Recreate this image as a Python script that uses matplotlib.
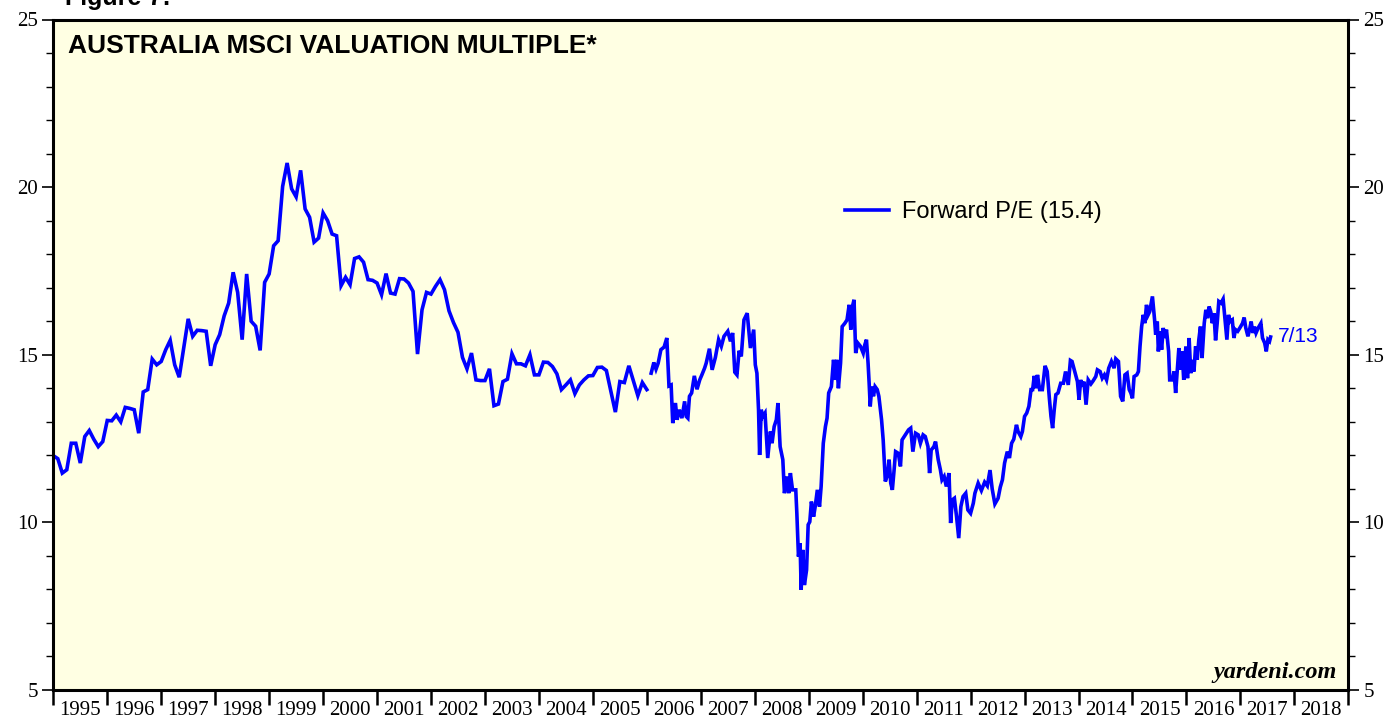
#!/usr/bin/env python3
"""Australia MSCI forward P/E, 1995 - mid 2017 (yardeni-style chart)."""

import numpy as np
import matplotlib
matplotlib.use("Agg")
import matplotlib.pyplot as plt
from matplotlib.ticker import FixedLocator, NullFormatter, FixedFormatter, MultipleLocator

# ── monthly readings, Jan 1995 .. Jan 2006 ───────────────────────────────────
monthly_start = 1995.0
monthly_pe = [
    11.99, 11.90, 11.47, 11.57, 12.36, 12.36, 11.77, 12.56, 12.74, 12.48, 12.26, 12.41,
    13.04, 13.03, 13.20, 13.00, 13.43, 13.40, 13.36, 12.66, 13.89, 13.96, 14.87, 14.70,
    14.80, 15.15, 15.43, 14.70, 14.33, 15.20, 16.07, 15.55, 15.73, 15.72, 15.70, 14.67,
    15.30, 15.60, 16.16, 16.54, 17.46, 16.86, 15.45, 17.41, 16.00, 15.85, 15.13, 17.16,
    17.41, 18.25, 18.40, 20.02, 20.72, 19.95, 19.71, 20.50, 19.35, 19.10, 18.36, 18.48,
    19.23, 19.00, 18.60, 18.55, 17.06, 17.31, 17.09, 17.87, 17.92, 17.76, 17.24, 17.22,
    17.14, 16.79, 17.42, 16.84, 16.81, 17.27, 17.26, 17.14, 16.89, 15.02, 16.34, 16.86,
    16.81, 17.04, 17.24, 16.94, 16.31, 15.96, 15.67, 14.92, 14.58, 15.05, 14.25, 14.23,
    14.23, 14.58, 13.48, 13.53, 14.20, 14.27, 15.03, 14.73, 14.73, 14.67, 15.00, 14.40,
    14.40, 14.78, 14.77, 14.65, 14.43, 13.96, 14.10, 14.25, 13.84, 14.10, 14.25, 14.37,
    14.38, 14.62, 14.63, 14.53, 13.91, 13.29, 14.20, 14.17, 14.67, 14.23, 13.78, 14.17,
    13.96,
]

# ── weekly-ish readings, 2006 .. 7/13/2017 (decimal year, P/E) ────────────────
weekly_dates = [
    2006.08, 2006.13, 2006.17, 2006.21, 2006.26, 2006.32, 2006.37, 2006.41, 2006.45, 2006.48,
    2006.53, 2006.56, 2006.60, 2006.65, 2006.70, 2006.73, 2006.76, 2006.79, 2006.83, 2006.88,
    2006.93, 2006.98, 2007.02, 2007.07, 2007.10, 2007.16, 2007.21, 2007.27, 2007.33, 2007.38,
    2007.43, 2007.50, 2007.55, 2007.59, 2007.63, 2007.67, 2007.71, 2007.75, 2007.80, 2007.86,
    2007.92, 2007.98, 2008.01, 2008.04, 2008.07, 2008.09, 2008.12, 2008.15, 2008.19, 2008.24,
    2008.29, 2008.32, 2008.36, 2008.40, 2008.43, 2008.47, 2008.52, 2008.55, 2008.60, 2008.63,
    2008.66, 2008.70, 2008.76, 2008.78, 2008.81, 2008.84, 2008.86, 2008.89, 2008.92, 2008.96,
    2008.99, 2009.02, 2009.05, 2009.09, 2009.12, 2009.16, 2009.20, 2009.23, 2009.27, 2009.31,
    2009.34, 2009.37, 2009.42, 2009.46, 2009.49, 2009.52, 2009.55, 2009.59, 2009.62, 2009.67,
    2009.71, 2009.75, 2009.78, 2009.81, 2009.84, 2009.87, 2009.91, 2009.96, 2010.01, 2010.04,
    2010.07, 2010.10, 2010.12, 2010.14, 2010.17, 2010.20, 2010.23, 2010.27, 2010.30, 2010.35,
    2010.38, 2010.42, 2010.46, 2010.49, 2010.52, 2010.55, 2010.58, 2010.61, 2010.66, 2010.70,
    2010.73, 2010.77, 2010.81, 2010.85, 2010.89, 2010.93, 2010.98, 2011.03, 2011.07, 2011.12,
    2011.16, 2011.21, 2011.24, 2011.27, 2011.32, 2011.35, 2011.40, 2011.44, 2011.47, 2011.51,
    2011.55, 2011.60, 2011.63, 2011.66, 2011.70, 2011.74, 2011.78, 2011.82, 2011.86, 2011.91,
    2011.95, 2012.00, 2012.05, 2012.08, 2012.14, 2012.20, 2012.26, 2012.31, 2012.36, 2012.40,
    2012.45, 2012.51, 2012.55, 2012.59, 2012.63, 2012.68, 2012.72, 2012.76, 2012.80, 2012.85,
    2012.88, 2012.93, 2012.96, 2013.00, 2013.04, 2013.08, 2013.12, 2013.15, 2013.18, 2013.21,
    2013.24, 2013.28, 2013.33, 2013.38, 2013.42, 2013.46, 2013.49, 2013.52, 2013.55, 2013.58,
    2013.62, 2013.67, 2013.72, 2013.76, 2013.81, 2013.85, 2013.88, 2013.93, 2013.98, 2014.01,
    2014.04, 2014.07, 2014.10, 2014.14, 2014.18, 2014.23, 2014.27, 2014.32, 2014.35, 2014.40,
    2014.44, 2014.48, 2014.52, 2014.56, 2014.61, 2014.66, 2014.69, 2014.74, 2014.78, 2014.82,
    2014.86, 2014.90, 2014.94, 2014.97, 2015.00, 2015.03, 2015.08, 2015.11, 2015.14, 2015.17,
    2015.20, 2015.23, 2015.26, 2015.29, 2015.32, 2015.37, 2015.41, 2015.43, 2015.46, 2015.48,
    2015.51, 2015.54, 2015.57, 2015.60, 2015.63, 2015.67, 2015.69, 2015.74, 2015.77, 2015.80,
    2015.83, 2015.86, 2015.89, 2015.92, 2015.95, 2015.99, 2016.02, 2016.05, 2016.08, 2016.11,
    2016.14, 2016.17, 2016.20, 2016.23, 2016.26, 2016.29, 2016.33, 2016.36, 2016.39, 2016.42,
    2016.45, 2016.48, 2016.51, 2016.54, 2016.57, 2016.60, 2016.64, 2016.68, 2016.71, 2016.75,
    2016.78, 2016.81, 2016.85, 2016.88, 2016.91, 2016.95, 2016.99, 2017.04, 2017.07, 2017.10,
    2017.14, 2017.17, 2017.20, 2017.23, 2017.26, 2017.29, 2017.33, 2017.38, 2017.41, 2017.45,
    2017.48, 2017.51, 2017.54, 2017.56,
]
weekly_pe = [
    14.45, 14.77, 14.57, 14.75, 15.15, 15.23, 15.50, 14.07, 14.10, 12.96,
    13.56, 13.06, 13.36, 13.11, 13.61, 13.16, 13.11, 13.76, 13.86, 14.37,
    13.97, 14.25, 14.40, 14.60, 14.75, 15.18, 14.55, 14.92, 15.45, 15.25,
    15.55, 15.70, 15.40, 15.65, 14.48, 14.40, 15.12, 14.95, 16.04, 16.24,
    15.20, 15.75, 14.70, 14.45, 13.36, 12.01, 13.36, 13.16, 13.26, 11.92,
    12.71, 12.36, 12.86, 13.06, 13.56, 12.26, 11.87, 10.87, 11.37, 10.87,
    11.47, 10.97, 10.97, 10.27, 8.98, 9.38, 7.99, 9.18, 8.13, 8.58,
    9.93, 10.02, 10.62, 10.17, 10.47, 10.97, 10.47, 11.07, 12.36, 12.86,
    13.11, 13.86, 14.05, 14.85, 14.25, 14.85, 14.00, 14.75, 15.84, 15.94,
    16.04, 16.49, 15.75, 16.44, 16.64, 15.05, 15.35, 15.25, 15.05, 15.30,
    15.45, 14.75, 14.15, 13.46, 14.05, 13.76, 14.05, 13.96, 13.76, 13.06,
    12.46, 11.22, 11.42, 11.87, 11.17, 10.97, 11.52, 12.11, 12.06, 11.67,
    12.46, 12.56, 12.66, 12.76, 12.81, 12.11, 12.66, 12.61, 12.36, 12.61,
    12.56, 12.26, 11.47, 12.16, 12.26, 12.41, 11.87, 11.57, 11.27, 11.37,
    11.07, 11.47, 9.98, 10.67, 10.72, 10.17, 9.53, 10.47, 10.77, 10.87,
    10.37, 10.27, 10.57, 10.87, 11.17, 10.95, 11.20, 11.09, 11.56, 11.00,
    10.55, 10.72, 11.05, 11.27, 11.77, 12.11, 11.92, 12.36, 12.48, 12.91,
    12.71, 12.56, 12.71, 13.16, 13.26, 13.46, 13.96, 13.96, 14.37, 14.00,
    14.40, 13.96, 13.96, 14.67, 14.50, 13.70, 13.16, 12.81, 13.36, 13.81,
    13.86, 14.15, 14.15, 14.50, 14.10, 14.83, 14.80, 14.50, 14.20, 13.66,
    14.25, 14.05, 14.20, 13.51, 14.25, 14.13, 14.22, 14.35, 14.55, 14.50,
    14.30, 14.40, 14.25, 14.60, 14.80, 14.60, 14.88, 14.80, 13.76, 13.61,
    14.40, 14.45, 13.96, 13.86, 13.70, 14.35, 14.40, 14.50, 15.25, 15.84,
    16.19, 15.94, 16.49, 16.19, 16.29, 16.74, 16.04, 15.60, 15.99, 15.10,
    15.70, 15.15, 15.80, 15.50, 15.75, 15.10, 14.25, 14.25, 14.50, 13.86,
    14.55, 15.20, 14.55, 15.10, 14.25, 15.25, 14.30, 15.50, 14.45, 14.85,
    14.50, 15.25, 14.85, 15.45, 15.84, 14.90, 15.94, 16.34, 16.09, 16.44,
    16.29, 15.94, 16.24, 15.43, 15.94, 16.59, 16.54, 16.66, 16.14, 15.45,
    16.19, 15.99, 16.04, 15.50, 15.75, 15.70, 15.80, 15.94, 16.11, 15.80,
    15.55, 15.75, 15.99, 15.65, 15.84, 15.65, 15.80, 15.94, 15.50, 15.35,
    15.10, 15.45, 15.40, 15.53,
]

latest_pe = 15.4
latest_label = "7/13"
years = list(range(1995, 2019))

BLUE = "#0000ff"
BG = "#ffffe3"
SERIF = ["Liberation Serif", "DejaVu Serif"]
SANS = ["Liberation Sans", "DejaVu Sans"]


def main() -> None:
    fig = plt.figure(figsize=(13.95, 7.21), dpi=100)
    ax = fig.add_axes([53.3 / 1395, 31 / 721, 1295 / 1395, 670.5 / 721])
    ax.set_facecolor(BG)

    m_dates = monthly_start + np.arange(len(monthly_pe)) / 12.0
    ax.plot(m_dates, monthly_pe, color=BLUE, linewidth=2.6,
            label=f"Forward P/E ({latest_pe})", solid_joinstyle="miter")
    ax.plot(weekly_dates, weekly_pe, color=BLUE, linewidth=2.6, solid_joinstyle="miter")

    ax.set_xlim(1995, 2019)
    ax.set_ylim(5, 25)

    # x axis: long ticks at year boundaries, labels centred in each year
    ax.xaxis.set_major_locator(FixedLocator(years + [2019]))
    ax.xaxis.set_major_formatter(NullFormatter())
    ax.xaxis.set_minor_locator(FixedLocator([y + 0.5 for y in years]))
    ax.xaxis.set_minor_formatter(FixedFormatter([str(y) for y in years]))
    ax.tick_params(axis="x", which="major", direction="out", length=11, width=1.8)
    ax.tick_params(axis="x", which="minor", length=0, pad=8, labelsize=15)

    # y axis on both sides
    ax.yaxis.set_major_locator(MultipleLocator(5))
    ax.yaxis.set_minor_locator(MultipleLocator(1))
    ax.tick_params(axis="y", which="major", direction="out", length=8, width=1.2,
                   left=True, right=True, labelleft=True, labelright=True,
                   labelsize=15, pad=3)
    ax.tick_params(axis="y", which="minor", direction="out", length=5, width=1.0,
                   left=True, right=True)
    for lbl in ax.get_xticklabels(minor=True):
        lbl.set_family(SERIF)
    for lbl in ax.yaxis.get_ticklabels(which="both"):
        lbl.set_family(SERIF)

    for sp in ax.spines.values():
        sp.set_linewidth(2.2)

    ax.text(0.011, 0.978, "AUSTRALIA MSCI VALUATION MULTIPLE*", transform=ax.transAxes,
            fontsize=19, fontweight="bold", family=SANS, ha="left", va="top")
    fig.text(65 / 1395, 1 - 5 / 721, "Figure 7:", fontsize=18, fontweight="bold",
             family=SANS, ha="left", va="baseline")
    ax.text(0.991, 0.010, "yardeni.com", transform=ax.transAxes, fontsize=17.5,
            fontweight="bold", fontstyle="italic", family=SERIF, ha="right", va="bottom")

    ax.annotate(latest_label, xy=(weekly_dates[-1], weekly_pe[-1]), xytext=(5, 0),
                textcoords="offset points", color=BLUE, fontsize=15, family=SANS,
                ha="left", va="center")

    ax.legend(loc="center left", bbox_to_anchor=(0.611, 0.713), frameon=False,
              handlelength=1.9, handletextpad=0.55,
              borderpad=0, borderaxespad=0, prop={"family": SANS, "size": 17})

    fig.savefig("out.png", dpi=100)


if __name__ == "__main__":
    main()
